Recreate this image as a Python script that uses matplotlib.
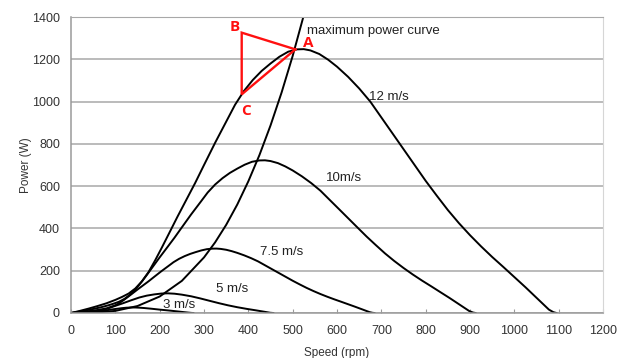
import matplotlib
matplotlib.use('Agg')
import matplotlib.pyplot as plt

plt.rcParams['font.family'] = ['Liberation Sans', 'DejaVu Sans']

# rotor speed (rpm) / power (W), one pair of lists per wind speed
rpm_12 = [0, 20, 40, 60, 80, 100, 115, 130, 145, 160, 175, 190, 205, 220, 240, 260, 280,
          300, 325, 350, 370, 390, 410, 430, 450, 470, 490, 510, 525, 540, 560, 580, 600,
          625, 650, 675, 700, 725, 750, 775, 800, 825, 850, 875, 900, 925, 950, 975, 1000,
          1025, 1050, 1065, 1078, 1088, 1095]
pow_12 = [0, 10, 21, 33, 46, 62, 76, 92, 116, 150, 194, 250, 310, 372, 455, 535, 615,
          700, 805, 905, 985, 1050, 1102, 1145, 1180, 1212, 1236, 1247, 1248, 1242, 1225, 1198, 1165,
          1117, 1062, 1000, 925, 850, 775, 700, 625, 555, 487, 425, 368, 315, 265, 218, 170,
          122, 72, 42, 16, 4, 0]

rpm_10 = [0, 16.7, 33.3, 50, 66.7, 83.3, 95.8, 108.3, 120.8, 133.3, 145.8, 158.3, 170.8, 183.3,
          200, 216.7, 233.3, 250, 270.8, 291.7, 308.3, 325, 341.7, 358.3, 375, 391.7, 408.3,
          425, 437.5, 450, 466.7, 483.3, 500, 520.8, 541.7, 562.5, 583.3, 604.2, 625, 645.8,
          666.7, 687.5, 708.3, 729.2, 750, 770.8, 791.7, 812.5, 833.3, 854.2, 875, 887.5,
          898.3, 906.7, 912.5]
pow_10 = [0, 5.8, 12.2, 19.1, 26.6, 35.9, 44, 53.2, 67.1, 86.8, 112.3, 144.7, 179.4, 215.3,
          263.3, 309.6, 355.9, 405.1, 465.9, 523.7, 570, 607.6, 637.7, 662.6, 682.9, 701.4, 715.3,
          721.6, 722.2, 718.7, 708.9, 693.3, 674.2, 646.4, 614.6, 578.7, 535.3, 491.9, 448.5, 405.1,
          361.7, 321.2, 281.8, 245.9, 213, 182.3, 153.4, 126.2, 98.4, 70.6, 41.7, 24.3,
          9.3, 2.3, 0]

rpm_75 = [0, 25, 50, 62.5, 81.3, 100, 109.4, 118.8, 128.1, 137.5, 150, 162.5, 175, 187.5,
          203.1, 218.8, 231.3, 243.8, 256.3, 268.8, 281.3, 293.8, 306.3, 318.8, 328.1, 337.5,
          350, 362.5, 375, 390.6, 406.3, 421.9, 437.5, 453.1, 468.8, 484.4, 500, 515.6, 531.3,
          546.9, 562.5, 578.1, 593.8, 609.4, 625, 640.6, 656.3, 665.6, 673.8, 680, 684.4]
pow_75 = [0, 5.1, 11.2, 15.1, 22.5, 36.6, 47.4, 61, 75.7, 90.8, 111.1, 130.6, 150.1, 170.9,
          196.5, 220.9, 240.5, 256.3, 269, 279.5, 288.1, 295.9, 301.8, 304.4, 304.7, 303.2,
          299.1, 292.5, 284.4, 272.7, 259.3, 244.1, 225.8, 207.5, 189.2, 170.9, 152.6, 135.5, 118.9,
          103.8, 89.8, 76.9, 64.7, 53.2, 41.5, 29.8, 17.6, 10.3, 3.9, 1, 0]

rpm_5 = [0, 16.7, 33.3, 47.9, 60.4, 72.9, 85.4, 100, 116.7, 135.4, 154.2, 170.8, 187.5, 204.2,
         218.8, 233.3, 250, 270.8, 291.7, 312.5, 333.3, 354.2, 375, 395.8, 416.7, 437.5, 449.2,
         456.3]
pow_5 = [0, 1.6, 3.4, 5.7, 8.6, 14.5, 23.1, 33.9, 45.8, 60, 73.4, 82.1, 87.9, 92.1,
         93, 91.3, 86.8, 79.1, 68.9, 57.7, 46.6, 36.3, 27.4, 19.7, 12.7, 5.4, 1.2,
         0]

rpm_3 = [0, 20, 40, 60, 80, 100, 115, 125, 135, 145, 155, 165, 180, 200, 220, 240, 255, 265, 272, 276]
pow_3 = [0, 1, 3, 7, 13, 19, 23, 25, 26, 26, 25, 23.5, 20.5, 16, 12, 7.5, 4, 1.8, 0.4, 0]

rpm_max = [0, 50, 100, 150, 200, 250, 300, 325, 350, 375, 400, 425, 450, 475, 500, 525, 540]
pow_max = [0, 1, 10, 33, 78, 152, 263, 334, 417, 513, 623, 747, 887, 1043, 1216, 1408, 1532]

# red triangle corners A, B, C
tri_rpm = [506, 385, 385, 506]
tri_pow = [1247, 1326, 1034, 1247]

fig = plt.figure(figsize=(6.28, 3.58), dpi=100)
ax = fig.add_axes([0.1131, 0.1257, 0.8471, 0.8268])

ax.set_xlim(0, 1200)
ax.set_ylim(0, 1400)
ax.set_xticks(range(0, 1300, 100))
ax.set_yticks(range(0, 1600, 200))

# horizontal grid only
ax.yaxis.grid(True, color='#a8a8a8', linewidth=1.1)
ax.set_axisbelow(True)

for s in ['left', 'bottom']:
    ax.spines[s].set_color('#9a9a9a')
    ax.spines[s].set_linewidth(1.1)
ax.spines['top'].set_color('#a8a8a8')
ax.spines['right'].set_color('#d6d6d6')

ax.tick_params(axis='x', direction='in', length=3, color='#9a9a9a', pad=9,
               labelsize=9, labelcolor='#333333')
ax.tick_params(axis='y', length=0, pad=8, labelsize=9, labelcolor='#333333')

lw = 1.4
ax.plot(rpm_12, pow_12, color='black', lw=lw)
ax.plot(rpm_10, pow_10, color='black', lw=lw)
ax.plot(rpm_75, pow_75, color='black', lw=lw)
ax.plot(rpm_5, pow_5, color='black', lw=lw)
ax.plot(rpm_3, pow_3, color='black', lw=lw)
ax.plot(rpm_max, pow_max, color='black', lw=lw)

# curve labels
ax.text(533, 1334, 'maximum power curve', fontsize=9.5, color='#222222', va='center')
ax.text(673, 1022, '12 m/s', fontsize=9.5, color='#222222', va='center')
ax.text(575, 639, '10m/s', fontsize=9.5, color='#222222', va='center')
ax.text(427, 289, '7.5 m/s', fontsize=9.5, color='#222222', va='center')
ax.text(327, 112, '5 m/s', fontsize=9.5, color='#222222', va='center')
ax.text(208, 38, '3 m/s', fontsize=9.5, color='#222222', va='center')

# triangle
ax.plot(tri_rpm, tri_pow, color='#ff1010', lw=1.7, solid_joinstyle='miter')
ax.text(369, 1354, 'B', color='#ff1010', fontsize=11, fontweight='bold',
        family=['Open Sans', 'DejaVu Sans'], ha='center', va='center')
ax.text(534, 1276, 'A', color='#ff1010', fontsize=11, fontweight='bold',
        family=['Open Sans', 'DejaVu Sans'], ha='center', va='center')
ax.text(394, 955, 'C', color='#ff1010', fontsize=11, fontweight='bold',
        family=['Open Sans', 'DejaVu Sans'], ha='center', va='center')

ax.set_xlabel('Speed (rpm)', fontsize=8.5, color='#333333', labelpad=7)
ax.set_ylabel('Power (W)', fontsize=8.5, color='#333333', labelpad=0)

fig.savefig('out.png', dpi=100)
